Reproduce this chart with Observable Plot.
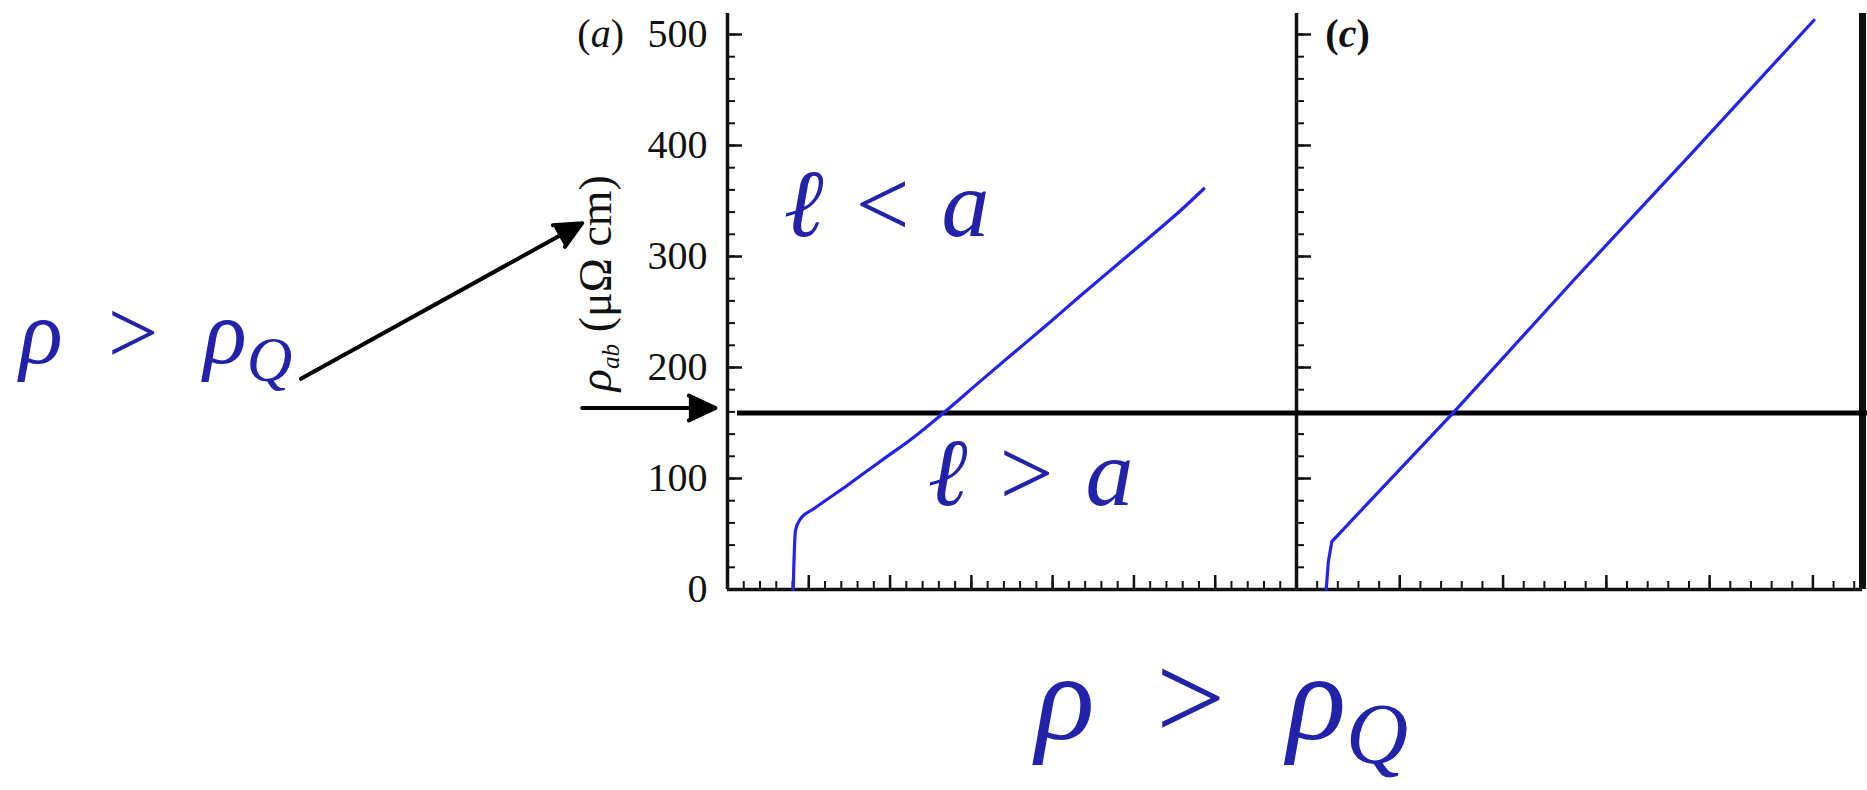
<!DOCTYPE html>
<html>
<head>
<meta charset="utf-8">
<script src="https://cdn.jsdelivr.net/npm/d3@7"></script>
<script src="https://cdn.jsdelivr.net/npm/@observablehq/plot@0.6"></script>
<style>
  html, body { margin: 0; padding: 0; background: #fff; }
  #chart { position: relative; width: 1867px; height: 790px; overflow: hidden; background: #fff; }
</style>
</head>
<body>
<div id="chart"></div>
<script>
// ---------------- data ----------------
// panel (a): temperature-like x (arbitrary units, 50 per major tick) and rho_ab (µΩ cm)
const panelA_T   = [40.4, 41.8, 44.9, 53.1, 73.6, 94.1, 114.6, 131.0, 155.6, 176.1, 196.7, 217.1, 237.6, 258.2, 278.7, 293.0];
const panelA_rho = [0,    53.2, 63.7, 72.7, 93.7, 115.6, 137.2, 156.8, 187.7, 213.2, 238.7, 264.6, 290.1, 315.6, 341.4, 361.0];
// panel (c)
const panelC_T   = [14.4, 15.4, 17.1, 46.6, 76.5, 135.5, 191.6, 250.5];
const panelC_rho = [0,    24.8, 43.2, 101.5, 160.5, 281.3, 393.5, 512.8];
// rho_Q threshold line
const rhoQ = [159];
// axes
const yDomain = [0, 518.9];
const xDomainA = [0, 350];
const xDomainC = [0, 274];
const yMajor = [0, 100, 200, 300, 400, 500];
const yTickLabels = ["0", "100", "200", "300", "400", "500"];
const yMinor = d3.range(0, 519, 20);
const xMajorA = d3.range(0, 351, 50);
const xMinorA = d3.range(0, 351, 10);
const xMajorC = d3.range(0, 275, 50);
const xMinorC = d3.range(0, 275, 10);
const panelTags = ["(a)", "(c)"];
const yLabel = "ρab (μΩ cm)";

// ---------------- styles ----------------
const serif = "'Liberation Serif', 'Times New Roman', serif";
const ink = "#111";
const curveBlue = "#2323ec";
const noteBlue = "#2222aa";

const seriesA = panelA_T.map((t, i) => ({T: t, rho: panelA_rho[i]}));
const seriesC = panelC_T.map((t, i) => ({T: t, rho: panelC_rho[i]}));

// annotations (positions in panel (a) data units)
const notes = [
  {id: "n-lt",   x: 34.4,   y: 345.7, size: 96,  parts: [["ℓ", "i"], ["\u2004<\u2004", "n"], ["a", "i"]]},
  {id: "n-gt",   x: 123.0,  y: 104,   size: 96,  parts: [["ℓ", "i"], ["\u2004>\u2004", "n"], ["a", "i"]]},
  {id: "n-left", x: -435.5, y: 230,   size: 90,  parts: [["ρ", "i"], ["\u2002>\u2002", "n"], ["ρ", "i"], ["Q", "sub"]]},
  {id: "n-bot",  x: 189.5,  y: -99,   size: 123, parts: [["ρ", "i"], ["\u2002>\u2002", "n"], ["ρ", "i"], ["Q", "sub"]]}
];
const arrows = [
  {x1: -262.4, y1: 189.8, x2: -89.4, y2: 330},
  {x1: -89.4,  y1: 163.5, x2: -7.4,  y2: 163.5}
];

const noteMarks = notes.map(n => Plot.text([n], {
  x: "x", y: "y", text: d => d.parts.map(p => p[0]).join(""),
  textAnchor: "start", fontSize: n.size, fontFamily: serif, fill: noteBlue, ariaLabel: () => n.id
}));

// panel (a) svg spans the whole picture; its frame is the left panel only
const plotA = Plot.plot({
  width: 1867, height: 790, marginLeft: 727, marginRight: 571, marginTop: 13, marginBottom: 201,
  style: {position: "absolute", left: "0px", top: "0px", background: "transparent", fontFamily: serif},
  x: {domain: xDomainA},
  y: {domain: yDomain},
  marks: [
    Plot.axisY({ticks: yMajor, tickSize: 0, tickPadding: 20, tickFormat: d => yTickLabels[yMajor.indexOf(d)], fontSize: 40, fontFamily: serif, fill: ink, label: null}),
    Plot.axisY({ticks: yMajor, tickSize: -15, strokeWidth: 2.5, stroke: ink, fill: "none", label: null}),
    Plot.axisY({ticks: yMinor, tickSize: -8, strokeWidth: 2, stroke: ink, fill: "none", label: null}),
    Plot.axisX({ticks: xMajorA, tickSize: -14, strokeWidth: 2.5, stroke: ink, fill: "none", label: null}),
    Plot.axisX({ticks: xMinorA, tickSize: -8, strokeWidth: 2, stroke: ink, fill: "none", label: null}),
    Plot.ruleX([xDomainA[0]], {stroke: ink, strokeWidth: 3.5}),
    Plot.ruleY([0], {stroke: ink, strokeWidth: 3.5}),
    Plot.ruleY(rhoQ, {stroke: "#000", strokeWidth: 5, insetLeft: 10}),
    Plot.line(seriesA, {x: "T", y: "rho", stroke: curveBlue, strokeWidth: 3.2, strokeLinejoin: "round", curve: "monotone-x"}),
    Plot.text([panelTags[0]], {x: -78, y: 500, text: d => d, fontSize: 40, fontFamily: serif, fill: ink, ariaLabel: () => "tag-a"}),
    Plot.text([yLabel], {x: -80.6, y: 276, text: d => d, rotate: -90, fontSize: 46, fontFamily: serif, fill: ink, ariaLabel: () => "ylabel"}),
    Plot.arrow(arrows, {x1: "x1", y1: "y1", x2: "x2", y2: "y2", stroke: "#000", fill: "#000", strokeWidth: 4, headLength: 11, headAngle: 50}),
    ...noteMarks
  ]
});

// panel (c): same vertical frame (top 13, bottom 589) in a shorter svg
const plotC = Plot.plot({
  width: 577, height: 600, marginLeft: 6, marginRight: 5, marginTop: 13, marginBottom: 11,
  style: {position: "absolute", left: "1290px", top: "0px", background: "transparent", fontFamily: serif},
  x: {domain: xDomainC},
  y: {domain: yDomain},
  marks: [
    Plot.axisY({ticks: yMajor, tickSize: -15, strokeWidth: 2.5, stroke: ink, fill: "none", label: null}),
    Plot.axisY({ticks: yMinor, tickSize: -8, strokeWidth: 2, stroke: ink, fill: "none", label: null}),
    Plot.axisX({ticks: xMajorC, tickSize: -14, strokeWidth: 2.5, stroke: ink, fill: "none", label: null}),
    Plot.axisX({ticks: xMinorC, tickSize: -8, strokeWidth: 2, stroke: ink, fill: "none", label: null}),
    Plot.ruleX([xDomainC[0]], {stroke: ink, strokeWidth: 3.5}),
    Plot.ruleX([xDomainC[1]], {stroke: ink, strokeWidth: 7}),
    Plot.ruleY([0], {stroke: ink, strokeWidth: 3.5}),
    Plot.ruleY(rhoQ, {stroke: "#000", strokeWidth: 5, insetRight: -5}),
    Plot.line(seriesC, {x: "T", y: "rho", stroke: curveBlue, strokeWidth: 3.2, strokeLinejoin: "round"}),
    Plot.text([panelTags[1]], {x: 24.7, y: 500, text: d => d, fontSize: 40, fontFamily: serif, fontWeight: "bold", fill: ink, ariaLabel: () => "tag-c"})
  ]
});

// rich text: italics and subscripts via tspans
function rich(svg, label, parts, size, subScale, subShift) {
  let t = d3.select(svg).select(`text[aria-label="${label}"]`);
  if (t.empty()) {
    const plain = parts.map(p => p[0]).join("");
    const found = Array.from(svg.querySelectorAll("text")).find(e => e.textContent === plain);
    if (!found) return;
    t = d3.select(found);
  }
  t.text(null);
  let cur = 0;
  for (const [s, st] of parts) {
    const sp = t.append("tspan").text(s);
    const isSub = st === "sub" || st === "subi";
    if (st === "i" || isSub) sp.attr("font-style", "italic");
    if (st === "n") sp.attr("font-style", "normal");
    if (isSub) sp.attr("font-size", size * subScale);
    const target = isSub ? size * subShift : 0;
    if (target !== cur) sp.attr("dy", target - cur);
    cur = target;
  }
}
const svgA = plotA.tagName.toLowerCase() === "svg" ? plotA : plotA.querySelector("svg");
notes.forEach(n => rich(svgA, n.id, n.parts, n.size, 0.7, 0.2));
rich(svgA, "tag-a", [["(", "n"], ["a", "i"], [")", "n"]], 40, 1, 0);
rich(svgA, "ylabel", [["ρ", "i"], ["ab", "subi"], [" (μΩ cm)", "n"]], 46, 0.55, 0.18);
const svgC = plotC.tagName.toLowerCase() === "svg" ? plotC : plotC.querySelector("svg");
rich(svgC, "tag-c", [["(", "n"], ["c", "i"], [")", "n"]], 40, 1, 0);

const chart = document.getElementById("chart");
chart.appendChild(plotA);
chart.appendChild(plotC);
</script>
</body>
</html>
